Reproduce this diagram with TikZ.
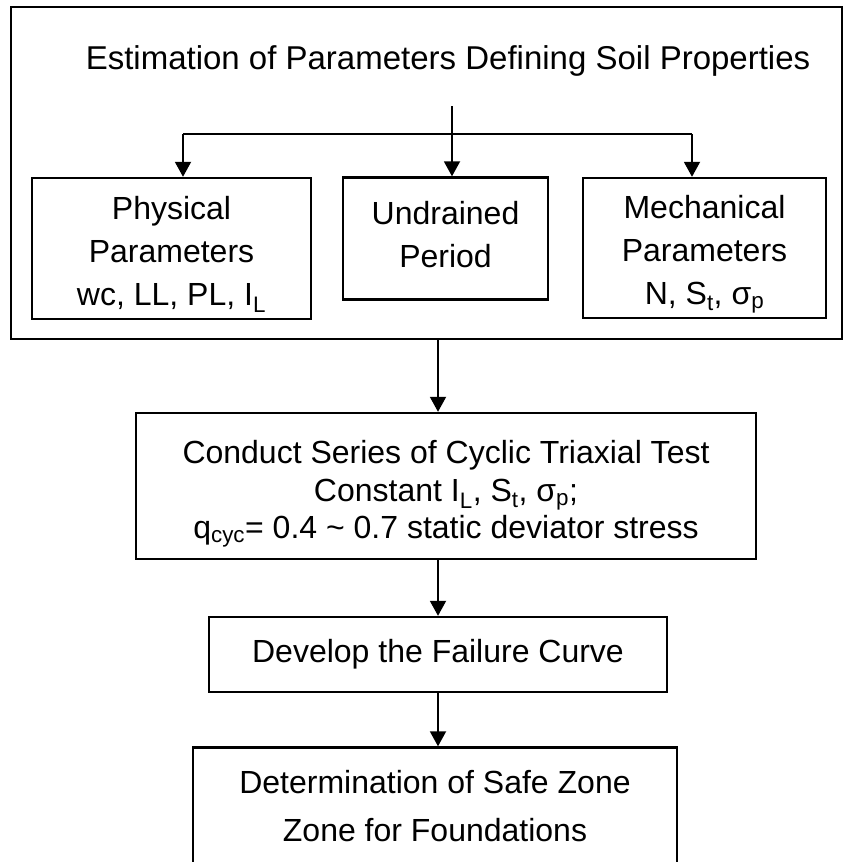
\documentclass[tikz,border=0pt]{standalone}
\usepackage{fontspec}
\setmainfont{Liberation Sans}
\usetikzlibrary{arrows.meta, positioning}

\begin{document}
\begin{tikzpicture}[
    x=1pt, y=-1pt,
    block/.style={rectangle, draw, line width=2.4pt, align=center, inner sep=0pt, font=\fontsize{32}{43}\selectfont},
    link/.style={-{Triangle[length=15pt, width=16pt]}, line width=1.9pt},
    >=stealth
]
\useasboundingbox (0,0) rectangle (844,862);
% outer frame with the three parameter groups
\node[draw, line width=2.2pt, minimum width=831pt, minimum height=332pt, inner sep=0pt] (frame) at (426.5,173) {};
\node[font=\fontsize{33}{40}\selectfont] (title) at (448,61) {Estimation of Parameters Defining Soil Properties};
\node[block, minimum width=279pt, minimum height=141pt] (phys) at (171.5,248.5) {\rule{0pt}{35pt}Physical\\Parameters\\wc, LL, PL, I\textsubscript{L}};
\node[block, minimum width=205pt, minimum height=122pt] (undr) at (445.5,238.5) {Undrained\\Period\rule[-8pt]{0pt}{8pt}};
\node[block, minimum width=243pt, minimum height=140pt] (mech) at (704.5,248) {\rule{0pt}{35pt}Mechanical\\Parameters\\N, S\textsubscript{t}, σ\textsubscript{p}};
\coordinate (stem) at (452,106);
\coordinate (hub) at (452,134);
\coordinate (jl) at (183,134);
\coordinate (jr) at (692,134);
\draw[line width=1.9pt] (stem) -- (hub);
\draw[line width=1.9pt] (jl) -- (jr);
\draw[link] (jl) -- (jl |- phys.north);
\draw[link] (hub) -- (hub |- undr.north);
\draw[link] (jr) -- (jr |- mech.north);
% test sequence
\node[block, minimum width=620pt, minimum height=146pt, font=\fontsize{32}{37.5}\selectfont] (cond) at (446,486) {\rule{0pt}{39pt}Conduct Series of Cyclic Triaxial Test\\Constant I\textsubscript{L}, S\textsubscript{t}, σ\textsubscript{p};\\q\textsubscript{cyc}= 0.4 \textasciitilde{} 0.7 static deviator stress};
\node[block, minimum width=458pt, minimum height=75pt] (dev) at (438,654.5) {Develop the Failure Curve};
\node[block, minimum width=484pt, minimum height=117pt, font=\fontsize{32}{48}\selectfont] (det) at (435,806) {Determination of Safe Zone\\Zone for Foundations};
\draw[link] (frame.south -| dev) -- (cond.north -| dev);
\draw[link] (cond.south -| dev) -- (dev.north);
\draw[link] (dev.south) -- (det.north -| dev.south);
\end{tikzpicture}
\end{document}
